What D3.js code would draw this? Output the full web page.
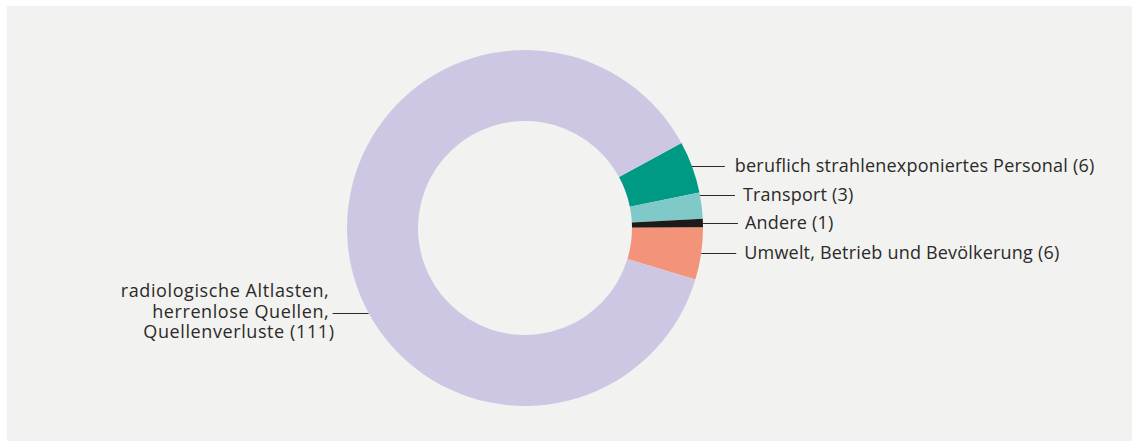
<!DOCTYPE html>
<html>
<head>
<meta charset="utf-8">
<script src="https://cdn.jsdelivr.net/npm/d3@7"></script>
<style>
  body { margin: 0; background: #ffffff; }
  text { font-family: "Open Sans", "Noto Sans", sans-serif; fill: #2b2a29; letter-spacing: 0.2px; }
</style>
</head>
<body>
<div id="chart"></div>
<script>
// Data
var categories = [
    "beruflich strahlenexponiertes Personal",
    "Transport",
    "Andere",
    "Umwelt, Betrieb und Bevölkerung",
    "radiologische Altlasten, herrenlose Quellen, Quellenverluste"
];
var values = [6, 3, 1, 6, 111];
var colors = ["#009a84", "#7fcac8", "#1e1a18", "#f2937a", "#cdc7e4"];

function init() {
    var w = 1134, h = 446;
    var cx = 525, cy = 228;
    var outerR = 178, innerR = 107;
    var fontSize = "18px";

    var svg = d3.select("#chart").append("svg")
        .attr("width", w)
        .attr("height", h);

    // light grey panel
    svg.append("rect")
        .attr("x", 7).attr("y", 6)
        .attr("width", 1125).attr("height", 435)
        .attr("fill", "#f2f2f0");

    var data = categories.map((c, i) => ({ name: c, value: values[i], color: colors[i] }));

    var start = 61.5 * Math.PI / 180;
    var pie = d3.pie()
        .sort(null)
        .value(d => d.value)
        .startAngle(start)
        .endAngle(start + 2 * Math.PI);

    var arc = d3.arc().innerRadius(innerR).outerRadius(outerR);

    var g = svg.append("g").attr("transform", `translate(${cx}, ${cy})`);

    g.selectAll("path")
        .data(pie(data))
        .enter()
        .append("path")
        .attr("d", arc)
        .attr("fill", d => d.data.color);

    // right side labels (y positions laid out by hand like the original)
    var rightLabels = [
        { i: 0, y: 166, len: 33, gap: 10 },
        { i: 1, y: 195, len: 35, gap: 8 },
        { i: 2, y: 223, len: 35, gap: 7 },
        { i: 3, y: 253, len: 35, gap: 8 }
    ];

    rightLabels.forEach(function (l) {
        var dy = l.y - cy;
        var x0 = cx + Math.sqrt(outerR * outerR - dy * dy);
        svg.append("line")
            .attr("x1", x0).attr("x2", x0 + l.len)
            .attr("y1", l.y + 0.5).attr("y2", l.y + 0.5)
            .attr("stroke", "#2b2a29").attr("stroke-width", 1);
        svg.append("text")
            .attr("x", x0 + l.len + l.gap)
            .attr("y", l.y + 6)
            .style("font-size", fontSize)
            .text(categories[l.i] + " (" + values[l.i] + ")");
    });

    // left label for the big slice
    var ly = 313;
    var lx = cx - Math.sqrt(outerR * outerR - (ly - cy) * (ly - cy));
    svg.append("line")
        .attr("x1", lx - 36).attr("x2", lx)
        .attr("y1", ly + 0.5).attr("y2", ly + 0.5)
        .attr("stroke", "#2b2a29").attr("stroke-width", 1);

    // trailing no-break spaces keep the comma lines off the leader line
    var leftLines = ["radiologische Altlasten,\u00a0", "herrenlose Quellen,\u00a0", "Quellenverluste (" + values[4] + ")"];
    svg.append("text")
        .attr("text-anchor", "end")
        .style("font-size", fontSize)
        .style("letter-spacing", "0.6px")
        .selectAll("tspan")
        .data(leftLines)
        .enter()
        .append("tspan")
        .attr("x", lx - 34)
        .attr("y", (d, i) => ly - 16 + i * 20.5)
        .text(d => d);
}

window.onload = init;
</script>
</body>
</html>
